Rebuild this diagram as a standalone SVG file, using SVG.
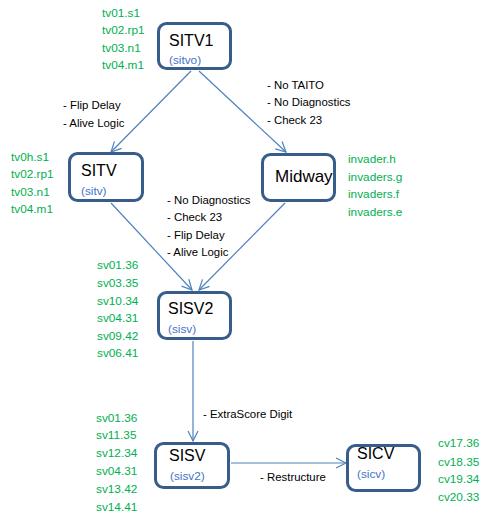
<svg xmlns="http://www.w3.org/2000/svg" width="485" height="520" viewBox="0 0 485 520">
<style>
.box{fill:#fff;stroke:#385d8a;stroke-width:3}
.title{font-family:"Liberation Sans",Arial,sans-serif;font-size:16px;fill:#000}
.sub{font-family:"Liberation Sans",Arial,sans-serif;font-size:11.8px;fill:#3f73c8}
.lbl{font-family:"Liberation Sans",Arial,sans-serif;font-size:11.4px;fill:#000}
.rom{font-family:"Liberation Sans",Arial,sans-serif;font-size:11.8px;fill:#00b050}
.conn{stroke:#4f81bd;stroke-width:1.2;fill:none;marker-end:url(#arr)}
</style>
<defs>
<marker id="arr" markerUnits="userSpaceOnUse" markerWidth="12" markerHeight="12" refX="10" refY="5" orient="auto" viewBox="0 0 12 10" overflow="visible">
<path d="M0,0 L10,5 L0,10" fill="none" stroke="#4f81bd" stroke-width="1.2"/>
</marker>
</defs>
<g id="connectors">
<line class="conn" x1="191" y1="71" x2="111" y2="152"/>
<line class="conn" x1="199" y1="71" x2="286" y2="152"/>
<line class="conn" x1="111" y1="203" x2="192" y2="290"/>
<line class="conn" x1="285" y1="203" x2="199" y2="290"/>
<line class="conn" x1="193" y1="341" x2="193" y2="441"/>
<line class="conn" x1="231" y1="463" x2="346" y2="463"/>
</g>
<g id="labels">
<text class="lbl" x="63" y="109">- Flip Delay</text>
<text class="lbl" x="63" y="127">- Alive Logic</text>
<text class="lbl" x="267" y="89">- No TAITO</text>
<text class="lbl" x="267" y="106">- No Diagnostics</text>
<text class="lbl" x="267" y="124">- Check 23</text>
<text class="lbl" x="167" y="204">- No Diagnostics</text>
<text class="lbl" x="167" y="221">- Check 23</text>
<text class="lbl" x="167" y="239">- Flip Delay</text>
<text class="lbl" x="167" y="256">- Alive Logic</text>
<text class="lbl" x="203" y="418">- ExtraScore Digit</text>
<text class="lbl" x="260" y="481">- Restructure</text>
</g>
<g id="SITV1">
<rect class="box" x="158.5" y="23.5" width="72" height="45" rx="8"/>
<text class="title" x="169" y="46">SITV1</text>
<text class="sub" x="169" y="64">(sitvo)</text>
<text class="rom" x="102" y="17">tv01.s1</text>
<text class="rom" x="102" y="34">tv02.rp1</text>
<text class="rom" x="102" y="52">tv03.n1</text>
<text class="rom" x="102" y="69">tv04.m1</text>
</g>
<g id="SITV">
<rect class="box" x="69.5" y="153.5" width="73" height="47" rx="8"/>
<text class="title" x="81" y="176">SITV</text>
<text class="sub" x="81" y="195">(sitv)</text>
<text class="rom" x="11" y="161">tv0h.s1</text>
<text class="rom" x="11" y="178">tv02.rp1</text>
<text class="rom" x="11" y="196">tv03.n1</text>
<text class="rom" x="11" y="213">tv04.m1</text>
</g>
<g id="Midway">
<rect class="box" x="262.5" y="154.5" width="72" height="46" rx="8"/>
<text class="title" x="275" y="182" style="font-size:17px">Midway</text>
<text class="rom" x="348" y="163">invader.h</text>
<text class="rom" x="348" y="181">invaders.g</text>
<text class="rom" x="348" y="198">invaders.f</text>
<text class="rom" x="348" y="216">invaders.e</text>
</g>
<g id="SISV2">
<rect class="box" x="158.5" y="292.5" width="72" height="46" rx="8"/>
<text class="title" x="168" y="314">SISV2</text>
<text class="sub" x="168" y="333">(sisv)</text>
<text class="rom" x="97" y="269">sv01.36</text>
<text class="rom" x="97" y="287">sv03.35</text>
<text class="rom" x="97" y="305">sv10.34</text>
<text class="rom" x="97" y="322">sv04.31</text>
<text class="rom" x="97" y="340">sv09.42</text>
<text class="rom" x="97" y="357">sv06.41</text>
</g>
<g id="SISV">
<rect class="box" x="155.5" y="443.5" width="73" height="44" rx="8"/>
<text class="title" x="169" y="461">SISV</text>
<text class="sub" x="170" y="480">(sisv2)</text>
<text class="rom" x="96" y="422">sv01.36</text>
<text class="rom" x="96" y="439">sv11.35</text>
<text class="rom" x="96" y="457">sv12.34</text>
<text class="rom" x="96" y="475">sv04.31</text>
<text class="rom" x="96" y="493">sv13.42</text>
<text class="rom" x="96" y="511">sv14.41</text>
</g>
<g id="SICV">
<rect class="box" x="347.5" y="445.5" width="72" height="45" rx="8"/>
<text class="title" x="357" y="459">SICV</text>
<text class="sub" x="357" y="478">(sicv)</text>
<text class="rom" x="438" y="447">cv17.36</text>
<text class="rom" x="438" y="466">cv18.35</text>
<text class="rom" x="438" y="483">cv19.34</text>
<text class="rom" x="438" y="501">cv20.33</text>
</g>
</svg>
